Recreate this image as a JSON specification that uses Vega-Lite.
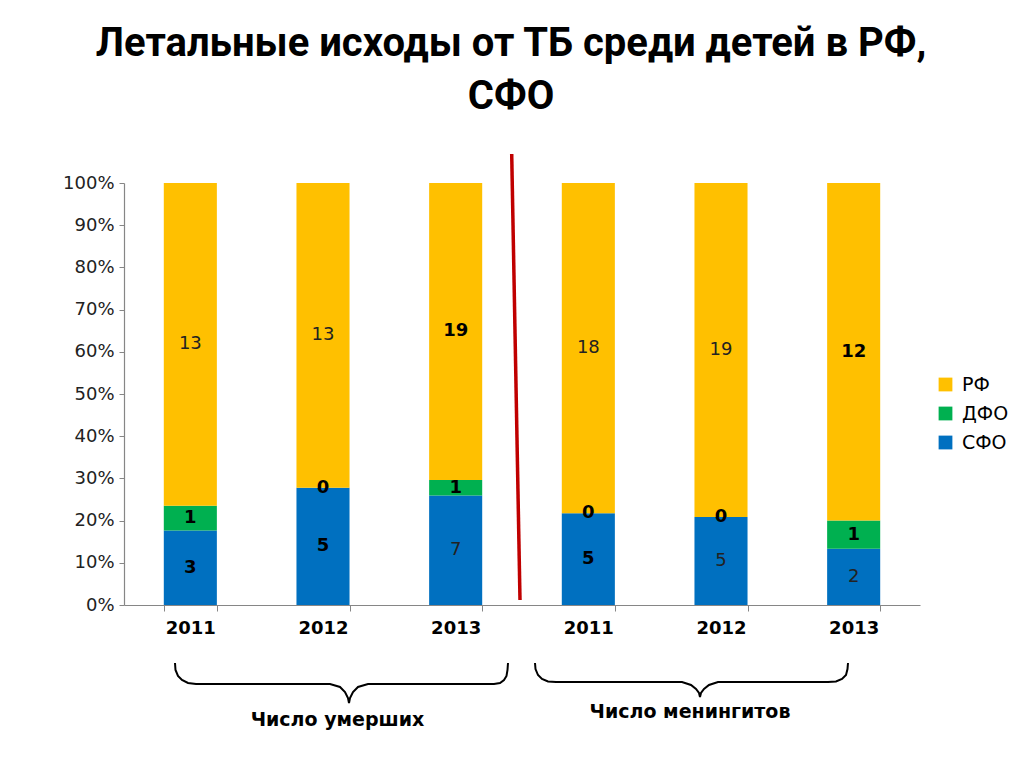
{
  "$schema": "https://vega.github.io/schema/vega-lite/v6.json",
  "width": 796,
  "height": 422,
  "autosize": {"type": "none"},
  "padding": {"left": 124, "top": 183, "right": 104, "bottom": 163},
  "background": "white",
  "config": {"view": {"stroke": null}},
  "title": {
    "text": ["Летальные исходы от ТБ среди детей в РФ,", "СФО"],
    "font": "Roboto",
    "fontWeight": "bold",
    "fontSize": 40,
    "lineHeight": 53,
    "color": "black",
    "anchor": "middle",
    "frame": "group",
    "baseline": "alphabetic",
    "dx": -11,
    "dy": 70,
    "offset": 73
  },
  "layer": [
    {
      "data": {
        "values": [
          {"col": "Число умерших 2011", "series": "СФО", "value": 3},
          {"col": "Число умерших 2011", "series": "ДФО", "value": 1},
          {"col": "Число умерших 2011", "series": "РФ", "value": 13},
          {"col": "Число умерших 2012", "series": "СФО", "value": 5},
          {"col": "Число умерших 2012", "series": "ДФО", "value": 0},
          {"col": "Число умерших 2012", "series": "РФ", "value": 13},
          {"col": "Число умерших 2013", "series": "СФО", "value": 7},
          {"col": "Число умерших 2013", "series": "ДФО", "value": 1},
          {"col": "Число умерших 2013", "series": "РФ", "value": 19},
          {"col": "Число менингитов 2011", "series": "СФО", "value": 5},
          {"col": "Число менингитов 2011", "series": "ДФО", "value": 0},
          {"col": "Число менингитов 2011", "series": "РФ", "value": 18},
          {"col": "Число менингитов 2012", "series": "СФО", "value": 5},
          {"col": "Число менингитов 2012", "series": "ДФО", "value": 0},
          {"col": "Число менингитов 2012", "series": "РФ", "value": 19},
          {"col": "Число менингитов 2013", "series": "СФО", "value": 2},
          {"col": "Число менингитов 2013", "series": "ДФО", "value": 1},
          {"col": "Число менингитов 2013", "series": "РФ", "value": 12}
        ]
      },
      "transform": [
        {"calculate": "indexof(['СФО','ДФО','РФ'], datum.series)", "as": "k"},
        {"stack": "value", "groupby": ["col"], "sort": [{"field": "k", "order": "ascending"}], "offset": "normalize", "as": ["v0", "v1"]},
        {"calculate": "(datum.v0 + datum.v1) / 2", "as": "mid"}
      ],
      "encoding": {
        "x": {
          "field": "col",
          "type": "nominal",
          "sort": ["Число умерших 2011", "Число умерших 2012", "Число умерших 2013", "Число менингитов 2011", "Число менингитов 2012", "Число менингитов 2013"],
          "scale": {"paddingInner": 0.6, "paddingOuter": 0.3},
          "axis": {
            "title": null,
            "labelExpr": "slice(datum.label, -4)",
            "labelAngle": 0,
            "labelFont": "DejaVu Sans",
            "labelFontWeight": "bold",
            "labelFontSize": 18,
            "labelColor": "black",
            "labelPadding": 8,
            "tickBand": "extent",
            "tickSize": 6,
            "tickColor": "#868686",
            "domainColor": "#868686",
            "domainWidth": 1.2,
            "grid": false
          }
        }
      },
      "layer": [
        {
          "mark": {"type": "bar"},
          "encoding": {
            "y": {
              "field": "v0",
              "type": "quantitative",
              "scale": {"domain": [0, 1], "nice": false},
              "axis": {
                "title": null,
                "format": ".0%",
                "values": [0, 0.1, 0.2, 0.3, 0.4, 0.5, 0.6, 0.7, 0.8, 0.9, 1],
                "labelFont": "DejaVu Sans",
                "labelFontSize": 18,
                "labelColor": "#222222",
                "labelPadding": 5,
                "tickSize": 5,
                "tickColor": "#868686",
                "domainColor": "#868686",
                "domainWidth": 1.2,
                "grid": false
              }
            },
            "y2": {"field": "v1"},
            "color": {
              "field": "series",
              "type": "nominal",
              "scale": {"domain": ["РФ", "ДФО", "СФО"], "range": ["#FFC000", "#00B050", "#0070C0"]},
              "legend": {
                "title": null,
                "orient": "none",
                "legendX": 812,
                "legendY": 192,
                "symbolType": "square",
                "symbolSize": 190,
                "symbolStrokeWidth": 0,
                "labelFont": "DejaVu Sans",
                "labelFontSize": 19,
                "labelColor": "black",
                "labelOffset": 7,
                "rowPadding": 9
              }
            }
          }
        },
        {
          "transform": [{"filter": "datum.series == 'ДФО' || (datum.series == 'СФО' && (datum.col == 'Число умерших 2011' || datum.col == 'Число умерших 2012' || datum.col == 'Число менингитов 2011')) || (datum.series == 'РФ' && (datum.col == 'Число умерших 2013' || datum.col == 'Число менингитов 2013'))"}],
          "mark": {"type": "text", "font": "DejaVu Sans", "fontWeight": "bold", "fontSize": 18, "baseline": "middle", "align": "center", "color": "black"},
          "encoding": {
            "y": {"field": "mid", "type": "quantitative"},
            "text": {"field": "value", "type": "quantitative"}
          }
        },
        {
          "transform": [{"filter": "!(datum.series == 'ДФО' || (datum.series == 'СФО' && (datum.col == 'Число умерших 2011' || datum.col == 'Число умерших 2012' || datum.col == 'Число менингитов 2011')) || (datum.series == 'РФ' && (datum.col == 'Число умерших 2013' || datum.col == 'Число менингитов 2013')))"}],
          "mark": {"type": "text", "font": "DejaVu Sans", "fontSize": 18, "baseline": "middle", "align": "center", "color": "#222222"},
          "encoding": {
            "y": {"field": "mid", "type": "quantitative"},
            "text": {"field": "value", "type": "quantitative"}
          }
        }
      ]
    },
    {
      "data": {
        "values": [
          {"b": "A", "u": 0.3844, "v": -0.1374},
          {"b": "A", "u": 0.3882, "v": -0.1540},
          {"b": "A", "u": 0.4070, "v": -0.1682},
          {"b": "A", "u": 0.4372, "v": -0.1777},
          {"b": "A", "u": 0.4824, "v": -0.1848},
          {"b": "A", "u": 0.5427, "v": -0.1872},
          {"b": "A", "u": 1.5528, "v": -0.1872},
          {"b": "A", "u": 1.6281, "v": -0.1943},
          {"b": "A", "u": 1.6658, "v": -0.2062},
          {"b": "A", "u": 1.6884, "v": -0.2204},
          {"b": "A", "u": 1.6960, "v": -0.2322},
          {"b": "A", "u": 1.7035, "v": -0.2204},
          {"b": "A", "u": 1.7261, "v": -0.2062},
          {"b": "A", "u": 1.7638, "v": -0.1943},
          {"b": "A", "u": 1.8392, "v": -0.1872},
          {"b": "A", "u": 2.7889, "v": -0.1872},
          {"b": "A", "u": 2.8342, "v": -0.1848},
          {"b": "A", "u": 2.8643, "v": -0.1777},
          {"b": "A", "u": 2.8832, "v": -0.1682},
          {"b": "A", "u": 2.8907, "v": -0.1540},
          {"b": "A", "u": 2.8945, "v": -0.1374},
          {"b": "B", "u": 3.0980, "v": -0.1374},
          {"b": "B", "u": 3.1018, "v": -0.1517},
          {"b": "B", "u": 3.1206, "v": -0.1659},
          {"b": "B", "u": 3.1508, "v": -0.1754},
          {"b": "B", "u": 3.1960, "v": -0.1813},
          {"b": "B", "u": 3.2563, "v": -0.1825},
          {"b": "B", "u": 4.2060, "v": -0.1825},
          {"b": "B", "u": 4.2739, "v": -0.1896},
          {"b": "B", "u": 4.3116, "v": -0.1991},
          {"b": "B", "u": 4.3342, "v": -0.2085},
          {"b": "B", "u": 4.3417, "v": -0.2180},
          {"b": "B", "u": 4.3492, "v": -0.2085},
          {"b": "B", "u": 4.3719, "v": -0.1991},
          {"b": "B", "u": 4.4095, "v": -0.1896},
          {"b": "B", "u": 4.4774, "v": -0.1825},
          {"b": "B", "u": 5.3065, "v": -0.1825},
          {"b": "B", "u": 5.3668, "v": -0.1813},
          {"b": "B", "u": 5.4121, "v": -0.1754},
          {"b": "B", "u": 5.4422, "v": -0.1659},
          {"b": "B", "u": 5.4535, "v": -0.1517},
          {"b": "B", "u": 5.4573, "v": -0.1374}
        ]
      },
      "mark": {"type": "line", "color": "black", "strokeWidth": 2, "clip": false},
      "encoding": {
        "x": {"field": "u", "type": "quantitative", "scale": {"domain": [0, 6], "nice": false, "zero": false}, "axis": null},
        "y": {"field": "v", "type": "quantitative", "scale": {"domain": [0, 1], "nice": false, "zero": false}, "axis": null},
        "detail": {"field": "b", "type": "nominal"}
      }
    },
    {
      "data": {
        "values": [
          {"u": 1.6092, "v": -0.2725, "t": "Число умерших"},
          {"u": 4.2663, "v": -0.2536, "t": "Число менингитов"}
        ]
      },
      "mark": {"type": "text", "font": "DejaVu Sans", "fontWeight": "bold", "fontSize": 19, "baseline": "middle", "align": "center", "color": "black", "clip": false},
      "encoding": {
        "x": {"field": "u", "type": "quantitative", "scale": {"domain": [0, 6], "nice": false, "zero": false}, "axis": null},
        "y": {"field": "v", "type": "quantitative", "scale": {"domain": [0, 1], "nice": false, "zero": false}, "axis": null},
        "text": {"field": "t", "type": "nominal"}
      }
    },
    {
      "data": {"values": [{"u": 2.9224, "v": 1.0687, "u2": 2.9849, "v2": 0.0118}]},
      "mark": {"type": "rule", "color": "#C00000", "strokeWidth": 3.5, "clip": false},
      "encoding": {
        "x": {"field": "u", "type": "quantitative", "scale": {"domain": [0, 6], "nice": false, "zero": false}, "axis": null},
        "y": {"field": "v", "type": "quantitative", "scale": {"domain": [0, 1], "nice": false, "zero": false}, "axis": null},
        "x2": {"field": "u2"},
        "y2": {"field": "v2"}
      }
    }
  ],
  "resolve": {"scale": {"x": "independent", "y": "independent", "color": "independent"}}
}
